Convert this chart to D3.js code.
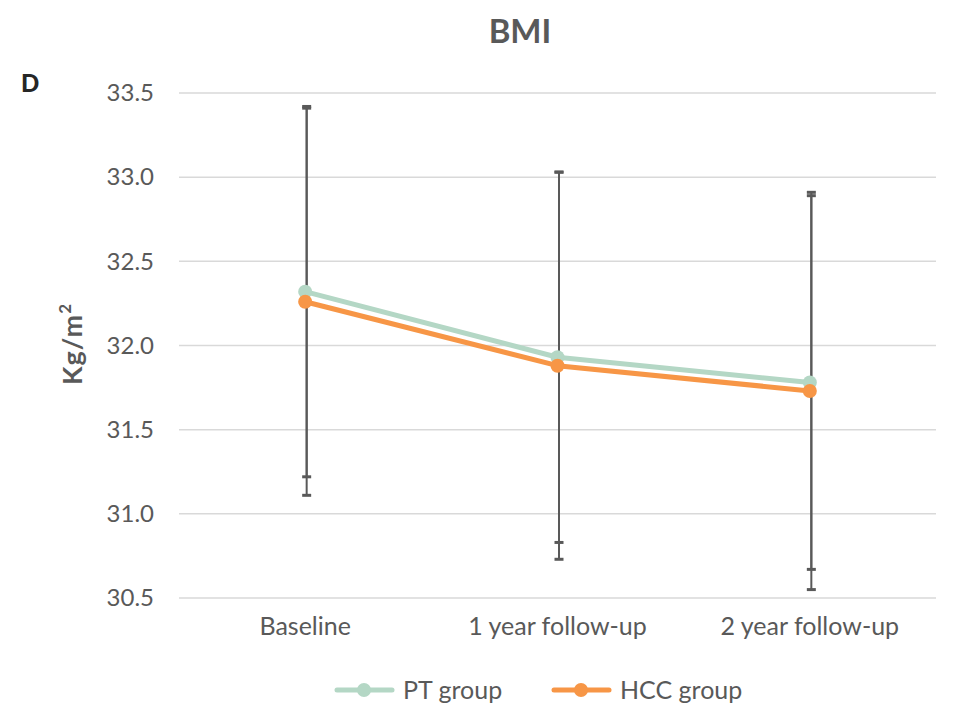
<!DOCTYPE html>
<html>
<head>
<meta charset="utf-8">
<script src="https://cdn.jsdelivr.net/npm/d3@7"></script>
<style>
  body { margin: 0; background: #fff; }
  text { font-family: Lato, "Open Sans", sans-serif; }
</style>
</head>
<body>
<svg width="962" height="711"></svg>
<script>
var categories = ["Baseline", "1 year follow-up", "2 year follow-up"];
var pt_values = [32.32, 31.93, 31.78];
var pt_errors = [1.10, 1.10, 1.11];
var hcc_values = [32.26, 31.88, 31.73];
var hcc_errors = [1.15, 1.15, 1.18];
var y_ticks = [30.5, 31.0, 31.5, 32.0, 32.5, 33.0, 33.5];

var svg = d3.select("svg");
var grey = "#595959";

var series = [
  {name: "PT group", values: pt_values, errors: pt_errors, color: "#b4d7c5"},
  {name: "HCC group", values: hcc_values, errors: hcc_errors, color: "#f79646"}
];

var x = d3.scaleBand().domain(categories).range([179, 936]);
var y = d3.scaleLinear().domain([30.5, 33.5]).range([598, 93]);

// gridlines
svg.append("g").selectAll("line")
  .data(y_ticks).enter().append("line")
  .attr("x1", 179).attr("x2", 936)
  .attr("y1", d => y(d)).attr("y2", d => y(d))
  .attr("stroke", "#d9d9d9").attr("stroke-width", 1.5);

// y axis labels
var yAxis = d3.axisLeft(y).tickValues(y_ticks).tickFormat(d3.format(".1f")).tickSize(0).tickPadding(0);
var yg = svg.append("g").attr("transform", "translate(154,0)").call(yAxis);
yg.select(".domain").remove();
yg.selectAll("text").attr("font-size", 24).attr("fill", grey)
  .style("font-family", "Lato, sans-serif");

// x axis labels
var xAxis = d3.axisBottom(x).tickSize(0).tickPadding(0);
var xg = svg.append("g").attr("transform", "translate(0,617)").call(xAxis);
xg.select(".domain").remove();
xg.selectAll("text").attr("font-size", 25).attr("fill", grey)
  .style("font-family", "Lato, sans-serif");

var cx = d => x(d) + x.bandwidth() / 2;

// error bars
series.forEach(function(s) {
  var g = svg.append("g");
  categories.forEach(function(c, i) {
    var lo = s.values[i] - s.errors[i], hi = s.values[i] + s.errors[i];
    g.append("line").attr("x1", cx(c) + 1.5).attr("x2", cx(c) + 1.5)
      .attr("y1", y(hi)).attr("y2", y(lo))
      .attr("stroke", grey).attr("stroke-width", 2);
    [lo, hi].forEach(function(v) {
      g.append("line").attr("x1", cx(c) - 3).attr("x2", cx(c) + 6)
        .attr("y1", y(v)).attr("y2", y(v))
        .attr("stroke", grey).attr("stroke-width", 3);
    });
  });
});

// lines + dots
var line = d3.line().x((d, i) => cx(categories[i])).y(d => y(d));
series.forEach(function(s) {
  svg.append("path").datum(s.values)
    .attr("d", line).attr("fill", "none")
    .attr("stroke", s.color).attr("stroke-width", 5).attr("stroke-linejoin", "round");
  svg.append("g").selectAll("circle")
    .data(s.values).enter().append("circle")
    .attr("cx", (d, i) => cx(categories[i]))
    .attr("cy", d => y(d))
    .attr("r", 7).attr("fill", s.color);
});

// title
svg.append("text").attr("x", 520).attr("y", 43).attr("text-anchor", "middle")
  .attr("font-size", 33).attr("font-weight", "bold").attr("fill", grey).text("BMI");

svg.append("text").attr("x", 21).attr("y", 92)
  .attr("font-size", 24).attr("font-weight", "900").attr("fill", "#262626").text("D");

// y axis title
var yt = svg.append("text").attr("transform", "translate(82,344) rotate(-90)")
  .attr("text-anchor", "middle").attr("font-size", 27).attr("font-weight", "bold")
  .attr("fill", grey).attr("letter-spacing", 1);
yt.append("tspan").text("Kg/m");
yt.append("tspan").attr("font-size", 17).attr("dy", -11).text("2");

// legend
var legend_x = [337, 554];
series.forEach(function(s, i) {
  var lg = svg.append("g").attr("transform", "translate(" + legend_x[i] + ",690)");
  lg.append("line").attr("x1", 0).attr("x2", 55).attr("y1", 0).attr("y2", 0)
    .attr("stroke", s.color).attr("stroke-width", 5).attr("stroke-linecap", "round");
  lg.append("circle").attr("cx", 27).attr("cy", 0).attr("r", 7).attr("fill", s.color);
  lg.append("text").attr("x", 66).attr("y", 9).attr("font-size", 25)
    .attr("fill", grey).text(s.name);
});
</script>
</body>
</html>
